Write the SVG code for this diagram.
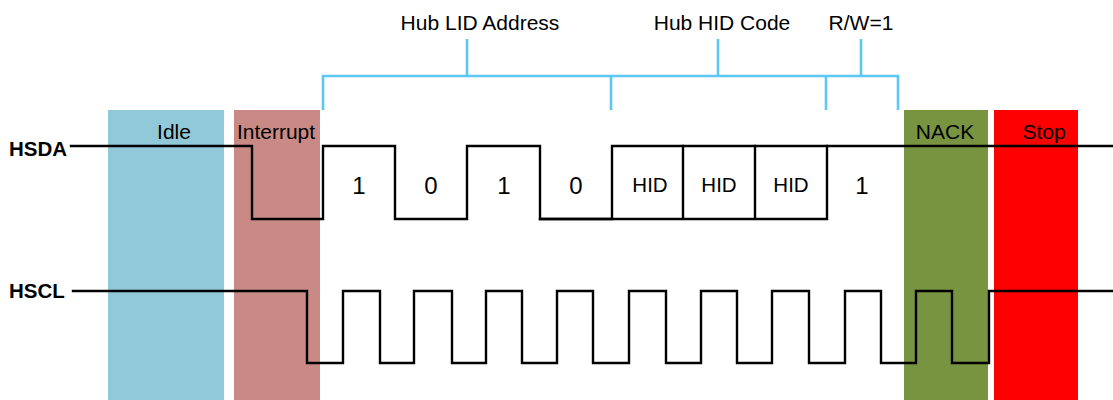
<svg xmlns="http://www.w3.org/2000/svg" width="1113" height="400" viewBox="0 0 1113 400">
  <style>
    .lbl { font-family: "Liberation Sans", Arial, sans-serif; font-size: 21px; fill: #000; text-anchor: middle; }
    .sig { font-family: "Liberation Sans", Arial, sans-serif; font-size: 20.5px; font-weight: bold; fill: #000; }
    .bit { font-family: "Liberation Sans", Arial, sans-serif; font-size: 24px; fill: #000; text-anchor: middle; }
    .hid { font-family: "Liberation Sans", Arial, sans-serif; font-size: 20.5px; fill: #000; text-anchor: middle; }
    .wave { fill: none; stroke: #000; stroke-width: 2.4; stroke-linejoin: miter; stroke-linecap: square; }
    .brace { fill: none; stroke: #5BC8F3; stroke-width: 2.6; }
  </style>

  <rect width="1113" height="400" fill="#fff"/>

  <!-- phase bands -->
  <g id="idle">
    <rect x="108" y="110" width="116" height="290" fill="#92C9D8"/>
    <text class="lbl" x="174" y="139">Idle</text>
  </g>
  <g id="interrupt">
    <rect x="234" y="110" width="86" height="290" fill="#C98A86"/>
    <text class="lbl" x="276" y="139">Interrupt</text>
  </g>
  <g id="nack">
    <rect x="904" y="110" width="84" height="290" fill="#789441"/>
    <text class="lbl" x="945" y="139">NACK</text>
  </g>
  <g id="stop">
    <rect x="994" y="110" width="84" height="290" fill="#FF0000"/>
    <text class="lbl" x="1044" y="139">Stop</text>
  </g>

  <!-- field brackets -->
  <g id="fields">
    <path class="brace" d="M323,110 V76 H898 V110 M611,76 V110 M826,76 V110 M467,76 V39 M718,76 V39 M861,76 V39"/>
    <text class="lbl" x="480" y="30">Hub LID Address</text>
    <text class="lbl" x="722" y="30">Hub HID Code</text>
    <text class="lbl" x="861" y="30">R/W=1</text>
  </g>

  <!-- signal names -->
  <g id="hsda-label"><text class="sig" x="9" y="156">HSDA</text></g>
  <g id="hscl-label"><text class="sig" x="9" y="298">HSCL</text></g>

  <g id="connectors">
    <!-- data line -->
    <g id="hsda">
      <path class="wave" d="M71,146 H252 V219 H323 V146 H395 V219 H467 V146 H540 V219 H612 V146 H1113"/>
      <path class="wave" d="M540,219 H827 V146 M683,146 V219 M755,146 V219"/>
    </g>
    <!-- clock line -->
    <g id="hscl">
      <path class="wave" d="M73,291 H307 V363 H343 V291 H380 V363 H414 V291 H452 V363 H486 V291 H522 V363 H557 V291 H593 V363 H629 V291 H666 V363 H701 V291 H737 V363 H772 V291 H809 V363 H845 V291 H881 V363 H916 V291 H952 V363 H989 V291 H1113"/>
    </g>
  </g>

  <!-- bit values -->
  <g id="bits">
    <text class="bit" x="359" y="194">1</text>
    <text class="bit" x="431" y="194">0</text>
    <text class="bit" x="504" y="194">1</text>
    <text class="bit" x="576" y="194">0</text>
    <text class="hid" x="650" y="192">HID</text>
    <text class="hid" x="719" y="192">HID</text>
    <text class="hid" x="791" y="192">HID</text>
    <text class="bit" x="862" y="194">1</text>
  </g>
</svg>
